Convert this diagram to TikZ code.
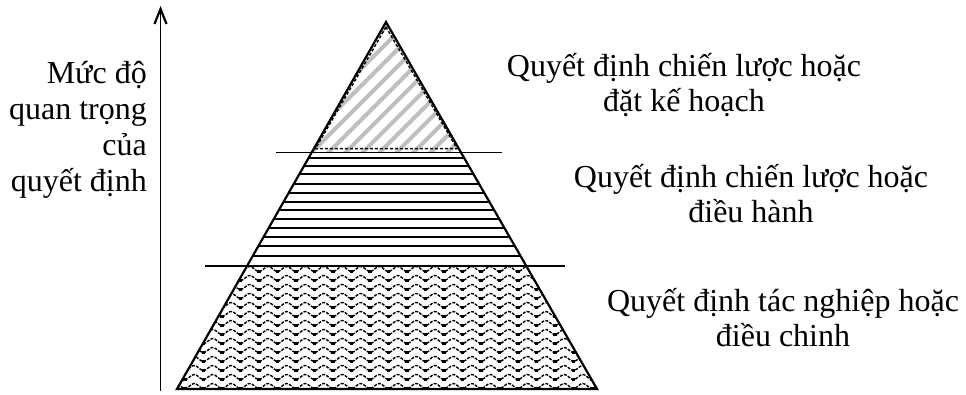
\documentclass[tikz,border=0pt]{standalone}
\usepackage{fontspec}
\setmainfont{Liberation Serif}
\usetikzlibrary{arrows.meta,calc}
\begin{document}
\begin{tikzpicture}[x=1pt,y=-1pt,
  lbl/.style={inner sep=0pt,anchor=base,font=\fontsize{32}{35}\selectfont},
  lblr/.style={lbl,anchor=base east},
  edge/.style={line width=2.2pt,line join=miter},
  sep/.style={line width=1.8pt},
  hline/.style={line width=1.6pt},
  stripe/.style={line width=4pt,black!25},
  wave/.style={line width=1.4pt,dash pattern=on 3pt off 1.3pt},
  axis/.style={line width=1.8pt,-{Straight Barb[length=15pt,width=12pt,line width=2.2pt]}}]
\useasboundingbox (0,0) rectangle (966,394);
% main points
\coordinate (A) at (386,22);
\coordinate (BL) at (177,389);
\coordinate (BR) at (597,389);
\coordinate (L1) at ($(A)!0.3556!(BL)$);
\coordinate (R1) at ($(A)!0.3556!(BR)$);
\coordinate (L2) at ($(A)!0.6649!(BL)$);
\coordinate (R2) at ($(A)!0.6649!(BR)$);
% top: grey stripes
\begin{scope}
  \clip (A) -- (L1) -- (R1) -- cycle;
  \foreach \c in {396,413,...,630}
    \draw[stripe] (250,\c-250) -- (500,\c-500);
  \draw[line width=1.4pt,dash pattern=on 3pt off 2pt] (386,27) -- (315.5,148.6) -- (457,148.6) -- cycle;
\end{scope}
% middle: horizontal lines
\begin{scope}
  \clip (L1) -- (R1) -- (R2) -- (L2) -- cycle;
  \foreach \y in {158,166,174,193,202,210,219,228,237,246,256}
    \draw[hline] (200,\y) -- (580,\y);
  \draw[line width=2.6pt] (200,184) -- (580,184);
\end{scope}
% bottom: wavy pattern
\begin{scope}
  \clip (L2) -- (R2) -- (BR) -- (BL) -- cycle;
  \foreach \r in {269,278,...,390}{
    \draw[wave] plot[domain=170:605,samples=240] (\x,{\r+2.5*cos(19.46*(\x-333))});
    \foreach \k in {-9,...,14}
      \fill ({333+18.5*\k-1.8},\r+0.8) rectangle ++(3.6,3.4);
  }
\end{scope}
% outline and separators
\draw[edge] (A) -- (BR) -- (BL) -- cycle;
\coordinate (S1L) at (276,152.5);
\coordinate (S1R) at (502,152.5);
\coordinate (S2L) at (205,266);
\coordinate (S2R) at (565,266);
\draw[sep] (S1L) -- (S1R);
\draw[sep] (S2L) -- (S2R);
% axis
\coordinate (AB) at (160.5,391);
\coordinate (AT) at (160.5,6);
\draw[axis] (AB) -- (AT);
% left label
\node[lblr] (m1) at (147,83) {Mức độ};
\node[lblr] (m2) at (147,119) {quan trọng};
\node[lblr] (m3) at (147,155) {của};
\node[lblr] (m4) at (147,191) {quyết định};
% right labels
\node[lbl] (a1) at (684,76.5) {Quyết định chiến lược hoặc};
\node[lbl] (a2) at (684,111.5) {đặt kế hoạch};
\node[lbl] (b1) at (751,187) {Quyết định chiến lược hoặc};
\node[lbl] (b2) at (751,222) {điều hành};
\node[lbl] (c1) at (783,311) {Quyết định tác nghiệp hoặc};
\node[lbl] (c2) at (783,346.5) {điều chinh};
\end{tikzpicture}
\end{document}
